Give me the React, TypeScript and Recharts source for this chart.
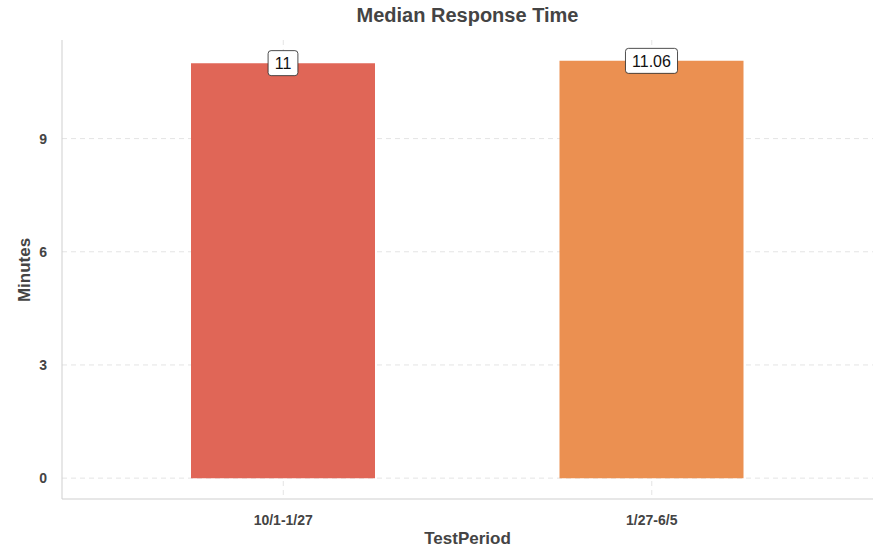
import { BarChart, Bar, XAxis, YAxis, CartesianGrid, Cell, LabelList } from 'recharts';

const periods = ['10/1-1/27', '1/27-6/5'];
const medianMinutes = [11, 11.06];
const barColors = ['#E06657', '#EB9051'];
const yTicks = [0, 3, 6, 9];

const data = periods.map((p, i) => ({ period: p, minutes: medianMinutes[i] }));

const FONT = '"Liberation Sans", Arial, sans-serif';
const TEXT = '#444444';

// rough Arial widths so the label box hugs the text
const textWidth = (s: string, size: number) =>
  s.split('').reduce((w, c) => w + (c === '.' ? 0.278 : 0.556) * size, 0);

const ValueLabel = (props: any) => {
  const { x, y, width, value } = props;
  const str = String(value);
  const size = 16;
  const w = textWidth(str, size) + 12;
  const h = 25;
  const cx = x + width / 2;
  return (
    <g>
      <rect x={cx - w / 2} y={y - h / 2} width={w} height={h} rx={3} ry={3}
        fill="#ffffff" stroke="#222" strokeWidth={0.8} />
      <text x={cx} y={y + 6} textAnchor="middle" fontFamily={FONT} fontSize={size} fill="#111">
        {str}
      </text>
    </g>
  );
};

export default function App() {
  return (
    <div style={{ position: 'absolute', left: 0, top: 0, width: 877, height: 550, background: '#fff', fontFamily: FONT }}>
      <div style={{ position: 'absolute', left: 62, width: 811, top: 4, textAlign: 'center', fontSize: 20, fontWeight: 'bold', color: TEXT }}>
        Median Response Time
      </div>
      <div style={{ position: 'absolute', left: 62, width: 811, top: 529, textAlign: 'center', fontSize: 17, fontWeight: 'bold', color: TEXT }}>
        TestPeriod
      </div>
      <div style={{ position: 'absolute', left: 25, top: 270, transform: 'translate(-50%, -50%) rotate(-90deg)', fontSize: 17, fontWeight: 'bold', color: TEXT, whiteSpace: 'nowrap' }}>
        Minutes
      </div>
      <BarChart width={877} height={550} data={data} margin={{ top: 40, right: 4, bottom: 21, left: 22 }}>
        {/* syncWithTicks keeps the grid off the panel edges */}
        <CartesianGrid stroke="#e4e4e4" strokeDasharray="5 4" syncWithTicks />
        <XAxis dataKey="period" height={30} padding={{ left: 37, right: 37 }}
          axisLine={{ stroke: '#cfcfcf' }} tickLine={false} tickSize={0} tickMargin={16}
          tick={{ fill: TEXT, fontSize: 14, fontWeight: 'bold', fontFamily: FONT }} />
        <YAxis width={40} domain={[-0.553, 11.613]} ticks={yTicks} allowDataOverflow
          axisLine={{ stroke: '#cfcfcf' }} tickLine={false} tickSize={0} tickMargin={15}
          tick={{ fill: TEXT, fontSize: 14, fontWeight: 'bold', fontFamily: FONT }} />
        <Bar dataKey="minutes" barSize={184} isAnimationActive={false}>
          {data.map((d, i) => (
            <Cell key={d.period} fill={barColors[i]} />
          ))}
          <LabelList dataKey="minutes" content={<ValueLabel />} />
        </Bar>
      </BarChart>
    </div>
  );
}
